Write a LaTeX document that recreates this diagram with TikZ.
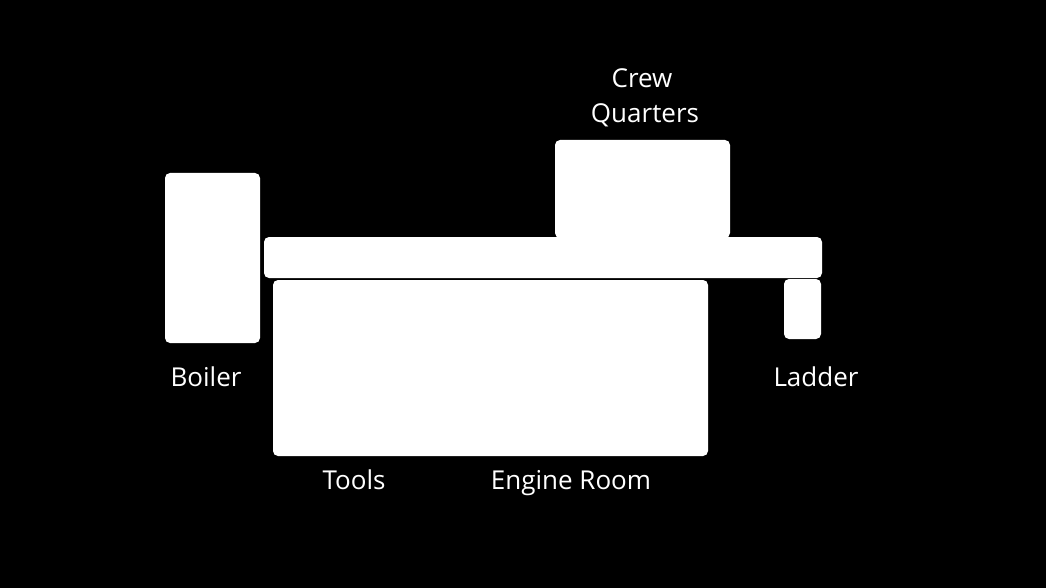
\documentclass[tikz,border=0pt]{standalone}
\usepackage{fontspec}
\setmainfont{Open Sans}
\begin{document}
\begin{tikzpicture}[x=1pt,y=-1pt,
  room/.style={fill=white,draw=none,rounded corners=5pt},
  lbl/.style={text=white,font=\fontsize{26}{35}\selectfont,inner sep=0pt,anchor=base,align=center}]
\fill[black] (0,0) rectangle (1046,588);
\useasboundingbox (0,0) rectangle (1046,588);
\path[room] (165,173) rectangle (260,343) node[midway] (boiler) {};
\path[room] (555,140) rectangle (730,238) node[midway] (crew) {};
\path[room] (264,237) rectangle (822,278) node[midway] (bar) {};
\path[room] (273,280) rectangle (708,456) node[midway] (engine) {};
\path[room] (784,279) rectangle (821,339) node[midway] (ladder) {};
\node[lbl] (tcrew) at (642,88) {Crew};
\node[lbl] (tquarters) at (645,123) {Quarters};
\node[lbl] (tboiler) at (206,386) {Boiler};
\node[lbl] (tladder) at (816,386) {Ladder};
\node[lbl] (ttools) at (354,489) {Tools};
\node[lbl] (tengine) at (571,489) {Engine Room};
\end{tikzpicture}
\end{document}
